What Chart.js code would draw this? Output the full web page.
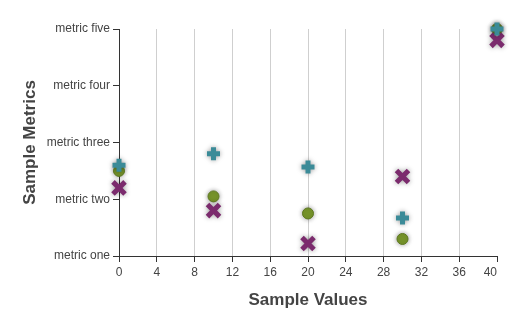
<!DOCTYPE html>
<html>
<head>
<meta charset="utf-8">
<script src="https://cdn.jsdelivr.net/npm/chart.js@4"></script>
<style>
  html, body { margin: 0; padding: 0; background: #fff; }
  #wrap { width: 530px; height: 325px; position: relative; }
</style>
</head>
<body>
<div id="wrap"><canvas id="chart"></canvas></div>
<script>
const metricLabels = ['metric one', 'metric two', 'metric three', 'metric four', 'metric five'];
const xValues = [0, 10, 20, 30, 40];
const circleValues = [2.5, 2.05, 1.75, 1.3, 5];
const crossValues = [2.6, 2.8, 2.57, 1.67, 5];
const xMarkValues = [2.2, 1.8, 1.22, 2.4, 4.8];

const toPoints = ys => ys.map((y, i) => ({ x: xValues[i], y: y }));

// soft grey glow round every marker
const haloPlugin = {
    id: 'halo',
    beforeDatasetsDraw(chart) {
        const ctx = chart.ctx;
        ctx.save();
        ctx.shadowColor = 'rgba(0,0,0,0.4)';
        ctx.shadowBlur = 5;
    },
    afterDatasetsDraw(chart) {
        chart.ctx.restore();
    }
};

const font = { family: 'Arial, "Liberation Sans", sans-serif', size: 12 };
const titleFont = { family: 'Arial, "Liberation Sans", sans-serif', size: 17, weight: 'bold' };

new Chart(document.getElementById('chart'), {
    type: 'scatter',
    data: {
        datasets: [{
            label: 'circles',
            data: toPoints(circleValues),
            order: 2,
            pointStyle: 'circle',
            pointRadius: 5.5,
            backgroundColor: '#7a982c',
            borderColor: '#5d7820',
            borderWidth: 1,
            clip: false
        }, {
            label: 'crosses',
            data: toPoints(crossValues),
            order: 0,
            pointStyle: 'cross',
            pointRadius: 6.5,
            backgroundColor: '#3b8b98',
            borderColor: '#3b8b98',
            borderWidth: 5,
            clip: false
        }, {
            label: 'x marks',
            data: toPoints(xMarkValues),
            order: 1,
            pointStyle: 'crossRot',
            pointRadius: 8.5,
            backgroundColor: '#7b2b6d',
            borderColor: '#7b2b6d',
            borderWidth: 5,
            clip: false
        }]
    },
    options: {
        responsive: true,
        maintainAspectRatio: false,
        animation: false,
        events: [],
        layout: { padding: { top: 29, right: 33, bottom: 0, left: 0 } },
        plugins: {
            legend: { display: false },
            tooltip: { enabled: false }
        },
        scales: {
            x: {
                type: 'linear',
                min: 0,
                max: 40,
                ticks: {
                    stepSize: 4,
                    color: '#444',
                    font: font,
                    padding: 3,
                    maxRotation: 0,
                    callback: v => v === 40 ? '40\u2007\u2007' : String(v)
                },
                grid: {
                    color: ctx => (ctx.tick && ctx.tick.value === 40) ? 'rgba(0,0,0,0)' : '#cfcfcf',
                    tickColor: '#333',
                    tickLength: 6,
                    lineWidth: 1
                },
                border: { color: '#333', width: 1 },
                title: {
                    display: true,
                    text: 'Sample Values',
                    color: '#444',
                    font: titleFont,
                    padding: { top: 0, bottom: 14 }
                },
                afterFit: scale => { scale.height = 69; }
            },
            y: {
                type: 'linear',
                min: 1,
                max: 5,
                ticks: {
                    stepSize: 1,
                    color: '#444',
                    font: font,
                    padding: 3,
                    callback: v => metricLabels[v - 1]
                },
                grid: {
                    color: 'rgba(0,0,0,0)',
                    tickColor: '#333',
                    tickLength: 6
                },
                border: { color: '#333', width: 1 },
                title: {
                    display: true,
                    text: 'Sample Metrics',
                    color: '#444',
                    font: titleFont,
                    padding: { top: 20, bottom: 0 }
                },
                afterFit: scale => { scale.width = 119; }
            }
        }
    },
    plugins: [haloPlugin]
});
</script>
</body>
</html>
